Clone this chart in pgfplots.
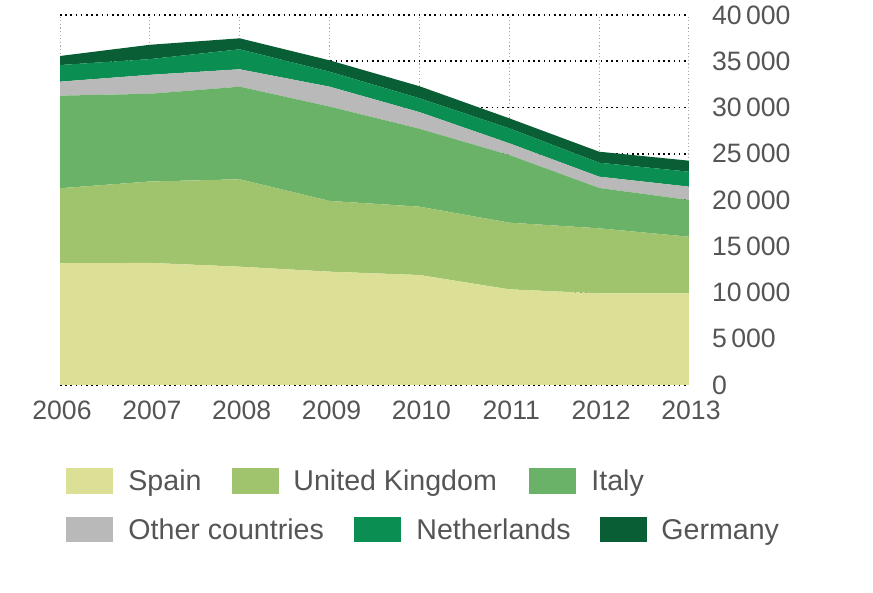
\documentclass[border=0pt]{standalone}
\usepackage{pgfplots}
\pgfplotsset{compat=1.18}
\usepackage{pgfplotstable}
\usepackage{fontspec}
\setmainfont{Liberation Sans}
\definecolor{cSpain}{HTML}{DCE096}
\definecolor{cUK}{HTML}{A0C46E}
\definecolor{cItaly}{HTML}{69B268}
\definecolor{cOther}{HTML}{B9B9B9}
\definecolor{cNeth}{HTML}{0B8E52}
\definecolor{cGer}{HTML}{0A5E36}
\definecolor{txt}{HTML}{555555}
\pgfplotstableread{
year Spain UK Italy Other Neth Ger
2006 13160 8110 10010 1510 1800 980
2007 13200 8800 9480 2050 1700 1550
2008 12790 9450 10010 1880 2160 1190
2009 12250 7650 10200 2150 1620 1230
2010 11890 7390 8420 1800 1500 1300
2011 10340 7210 7310 1270 1620 1080
2012 9910 7030 4360 1220 1510 1190
2013 9910 6120 3970 1440 1620 1190
}\data
\begin{document}
\begin{tikzpicture}
\useasboundingbox (-30pt,-104pt) rectangle (406.5pt,192.5pt);
\begin{axis}[
  at={(0,0)}, anchor=south west,
  scale only axis, width=314.5pt, height=185pt,
  xmin=2006, xmax=2013, ymin=0, ymax=40000,
  stack plots=y, area style,
  axis on top=false,
  axis line style={draw=none},
  major tick length=0pt,
  scaled y ticks=false, scaled x ticks=false,
  xtick={2006,2007,2008,2009,2010,2011,2012,2013},
  xticklabels={2006,2007,2008,2009,2010,2011,2012,2013},
  ytick={0,5000,10000,15000,20000,25000,30000,35000,40000},
  yticklabels={0,5\,000,10\,000,15\,000,20\,000,25\,000,30\,000,35\,000,40\,000},
  yticklabel pos=right,
  yticklabel style={anchor=west, xshift=8pt, font=\fontsize{13.3}{15}\selectfont, text=txt},
  xticklabel style={yshift=-4.5pt, xshift=1pt, font=\fontsize{13.3}{15}\selectfont, text=txt},
  grid=major,
  x grid style={gray!70, dash pattern=on 0.6pt off 1.2pt, line width=0.5pt},
  y grid style={black, dash pattern=on 0.8pt off 1.8pt, line width=0.8pt},
  clip=false,
]
\addplot[fill=cSpain, draw=none] table[x=year, y=Spain]{\data} \closedcycle;
\addplot[fill=cUK, draw=none] table[x=year, y=UK]{\data} \closedcycle;
\addplot[fill=cItaly, draw=none] table[x=year, y=Italy]{\data} \closedcycle;
\addplot[fill=cOther, draw=none] table[x=year, y=Other]{\data} \closedcycle;
\addplot[fill=cNeth, draw=none] table[x=year, y=Neth]{\data} \closedcycle;
\addplot[fill=cGer, draw=none] table[x=year, y=Ger]{\data} \closedcycle;
\end{axis}
% legend
\begin{scope}[every node/.style={anchor=base west, inner sep=0pt, text=txt, font=\fontsize{14.3}{16}\selectfont}]
\fill[cSpain] (3pt,-54.5pt) rectangle (26.5pt,-41.5pt);
\node at (34pt,-53pt) {Spain};
\fill[cUK] (86pt,-54.5pt) rectangle (109.5pt,-41.5pt);
\node at (116.5pt,-53pt) {United Kingdom};
\fill[cItaly] (234.5pt,-54.5pt) rectangle (258pt,-41.5pt);
\node at (265.5pt,-53pt) {Italy};
\fill[cOther] (3pt,-78.5pt) rectangle (26.5pt,-66pt);
\node at (34pt,-77.5pt) {Other countries};
\fill[cNeth] (147pt,-78.5pt) rectangle (170.5pt,-66pt);
\node at (178pt,-77.5pt) {Netherlands};
\fill[cGer] (270pt,-78.5pt) rectangle (293.5pt,-66pt);
\node at (300.5pt,-77.5pt) {Germany};
\end{scope}
\end{tikzpicture}
\end{document}
